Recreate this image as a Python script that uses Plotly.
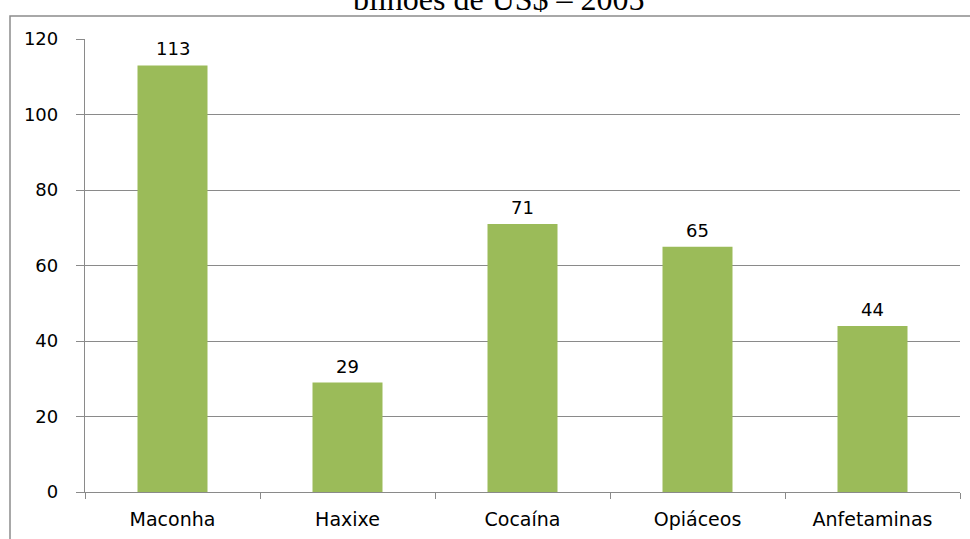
import plotly.graph_objects as go

categories = ["Maconha", "Haxixe", "Cocaína", "Opiáceos", "Anfetaminas"]
values = [113, 29, 71, 65, 44]
y_ticks = [0, 20, 40, 60, 80, 100, 120]
title_text = "bilhões de US$ – 2005"

W, H = 970, 539
L, R, T, B = 85, 10, 39, 47
pw, ph = W - L - R, H - T - B

GRID = "#8a8a8a"
GREEN = "#9BBB59"

fig = go.Figure()
fig.add_trace(go.Bar(
    x=categories, y=values,
    marker=dict(color=GREEN, line=dict(width=0)),
    hoverinfo="skip",
))

for c, v in zip(categories, values):
    fig.add_annotation(x=c, y=v, text=str(v), showarrow=False,
                       yanchor="bottom", yshift=4,
                       font=dict(family="DejaVu Sans", size=18, color="#000000"))

# partially cut-off title at the top
fig.add_annotation(xref="paper", yref="paper", x=(499 - L) / pw, y=1 + (T - 19) / ph,
                   xanchor="center", yanchor="bottom", showarrow=False,
                   text=title_text,
                   font=dict(family="Liberation Serif", size=32, color="#000000"))

# outer frame
fig.add_shape(type="rect", xref="paper", yref="paper",
              x0=(10 - L) / pw, x1=1.2, y0=-0.3, y1=1 + (T - 16) / ph,
              line=dict(color="#8c8c8c", width=1.5), layer="above")

fig.update_layout(
    width=W, height=H,
    margin=dict(l=L, r=R, t=T, b=B),
    paper_bgcolor="white", plot_bgcolor="white",
    bargap=0.6,
    showlegend=False,
    font=dict(family="DejaVu Sans", size=17, color="#000000"),
)
fig.update_xaxes(
    showline=True, linecolor=GRID, linewidth=1.3,
    ticks="outside", tickson="boundaries", ticklen=6, tickcolor=GRID, tickwidth=1.3,
    tickfont=dict(family="DejaVu Sans", size=19, color="#000000"),
    ticklabelstandoff=10,
    showgrid=False,
)
fig.update_yaxes(
    range=[0, 120], tickvals=y_ticks,
    showline=True, linecolor=GRID, linewidth=1.3,
    ticks="outside", ticklen=8, tickcolor=GRID, tickwidth=1.3,
    showgrid=True, gridcolor=GRID, gridwidth=1.3,
    zeroline=False,
    tickfont=dict(family="DejaVu Sans", size=18, color="#000000"),
    ticklabelstandoff=14,
)

fig.write_html("out.html", config={"displayModeBar": False},
               post_script="document.body.style.margin='0';")
